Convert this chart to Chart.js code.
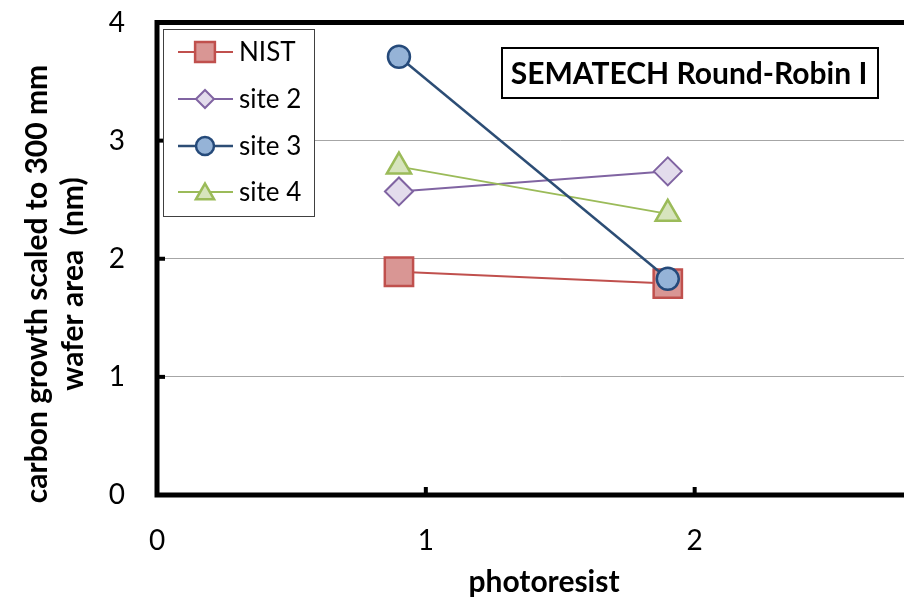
<!DOCTYPE html>
<html>
<head>
<meta charset="utf-8">
<script src="https://cdn.jsdelivr.net/npm/chart.js@4"></script>
<style>
  html, body { margin: 0; padding: 0; background: #fff; overflow: hidden; }
</style>
</head>
<body>
<canvas id="myChart" width="986" height="600"></canvas>
<script>
// photoresist positions and measured carbon growth (nm)
const xValues = [0.9, 1.9];
const nist  = [1.89, 1.79];
const site2 = [2.57, 2.74];
const site3 = [3.71, 1.83];
const site4 = [2.78, 2.38];
const seriesNames = ['NIST', 'site 2', 'site 3', 'site 4'];
const xTicks = [0, 1, 2, 3];
const yTicks = [0, 1, 2, 3, 4];
const chartTitle = 'SEMATECH Round-Robin I';
const xTitle = 'photoresist';
const yTitle = ['carbon growth scaled to 300 mm', 'wafer area  (nm)'];

const FONT = 'Lato, "Open Sans", sans-serif';

function pts(ys) {
  return xValues.map((x, i) => ({ x: x, y: ys[i] }));
}

// legend marker radius for each series
const legendRadius = [14, 9, 9, 10.5];

function noPad(s) {
  s.paddingLeft = 0; s.paddingRight = 0; s.paddingTop = 0; s.paddingBottom = 0;
}

const frame = {
  id: 'frame',
  afterDraw(chart) {
    const ctx = chart.ctx;
    const a = chart.chartArea;
    const xs = chart.scales.x, ys = chart.scales.y;
    ctx.save();

    // inward ticks
    ctx.strokeStyle = '#000';
    ctx.lineWidth = 4;
    yTicks.forEach(v => {
      const py = ys.getPixelForValue(v);
      ctx.beginPath(); ctx.moveTo(a.left, py); ctx.lineTo(a.left + 8, py); ctx.stroke();
    });
    xTicks.forEach(v => {
      const px = xs.getPixelForValue(v);
      ctx.beginPath(); ctx.moveTo(px, a.bottom); ctx.lineTo(px, a.bottom - 8); ctx.stroke();
    });

    // thick frame
    ctx.lineWidth = 5;
    ctx.strokeRect(a.left, a.top, a.right - a.left, a.bottom - a.top);

    // axis titles
    ctx.fillStyle = '#000';
    ctx.font = 'bold 30px ' + FONT;
    ctx.textAlign = 'center';
    ctx.textBaseline = 'middle';
    ctx.fillText(xTitle, 544, 582);
    ctx.save();
    ctx.translate(37, 284);
    ctx.rotate(-Math.PI / 2);
    ctx.fillText(yTitle[0], 0, 0);
    ctx.fillText(yTitle[1], 0, 36);
    ctx.restore();

    // legend
    ctx.lineWidth = 1;
    ctx.strokeStyle = '#404040';
    ctx.fillStyle = '#fff';
    ctx.fillRect(163.5, 29.5, 151, 187);
    ctx.strokeRect(163.5, 29.5, 151, 187);
    const rows = [52, 99, 146, 192];
    chart.data.datasets.forEach((ds, i) => {
      const y = rows[i];
      ctx.strokeStyle = ds.borderColor;
      ctx.lineWidth = ds.borderWidth;
      ctx.beginPath(); ctx.moveTo(178, y); ctx.lineTo(233, y); ctx.stroke();
      ctx.fillStyle = ds.pointBackgroundColor;
      ctx.strokeStyle = ds.pointBorderColor;
      ctx.lineWidth = ds.pointBorderWidth;
      Chart.helpers.drawPoint(ctx, {
        pointStyle: ds.pointStyle, radius: legendRadius[i], rotation: 0, borderWidth: ds.pointBorderWidth
      }, 205, i === 3 ? y + 2 : y);
      ctx.fillStyle = '#000';
      ctx.font = '26px ' + FONT;
      ctx.textAlign = 'left';
      ctx.fillText(ds.label, 239, y + 1);
    });

    // title box
    ctx.lineWidth = 2;
    ctx.strokeStyle = '#000';
    ctx.strokeRect(502, 48, 376, 50);
    ctx.fillStyle = '#000';
    ctx.font = 'bold 30px ' + FONT;
    ctx.textAlign = 'center';
    ctx.fillText(chartTitle, 689, 74);

    ctx.restore();
  }
};

new Chart(document.getElementById('myChart'), {
  type: 'scatter',
  data: {
    datasets: [
      { label: seriesNames[0], data: pts(nist), showLine: true, order: 3,
        borderColor: '#c0504d', borderWidth: 2,
        pointStyle: 'rect', pointRadius: 20,
        pointBackgroundColor: '#d99694', pointBorderColor: '#c0504d', pointBorderWidth: 2.5 },
      { label: seriesNames[1], data: pts(site2), showLine: true, order: 2,
        borderColor: '#8064a2', borderWidth: 2,
        pointStyle: 'rectRot', pointRadius: 14,
        pointBackgroundColor: '#e3dcec', pointBorderColor: '#8064a2', pointBorderWidth: 2 },
      { label: seriesNames[2], data: pts(site3), showLine: true, order: 0,
        borderColor: '#2c4d75', borderWidth: 2.5,
        pointStyle: 'circle', pointRadius: 11,
        pointBackgroundColor: '#95b3d7', pointBorderColor: '#254a7a', pointBorderWidth: 2.5 },
      { label: seriesNames[3], data: pts(site4), showLine: true, order: 1,
        borderColor: '#9bbb59', borderWidth: 2,
        pointStyle: 'triangle', pointRadius: 14,
        pointBackgroundColor: '#d7e4bd', pointBorderColor: '#9bbb59', pointBorderWidth: 2.5 }
    ]
  },
  options: {
    responsive: false,
    animation: false,
    layout: { padding: { top: 17.5, right: 6, left: 0, bottom: 0 } },
    plugins: {
      legend: { display: false },
      tooltip: { enabled: false }
    },
    scales: {
      x: {
        type: 'linear', min: 0, max: 3,
        afterFit: s => { s.height = 105; noPad(s); },
        afterBuildTicks: s => { s.ticks = xTicks.map(v => ({ value: v })); },
        grid: { display: false, drawTicks: false },
        border: { display: false },
        ticks: { color: '#000', padding: 29, font: { family: FONT, size: 28 } }
      },
      y: {
        min: 0, max: 4,
        afterFit: s => { s.width = 157; noPad(s); },
        afterBuildTicks: s => { s.ticks = yTicks.map(v => ({ value: v })); },
        grid: { color: '#a6a6a6', lineWidth: 1, drawTicks: false },
        border: { display: false },
        ticks: { color: '#000', padding: 32, font: { family: FONT, size: 28 } }
      }
    }
  },
  plugins: [frame]
});
</script>
</body>
</html>
